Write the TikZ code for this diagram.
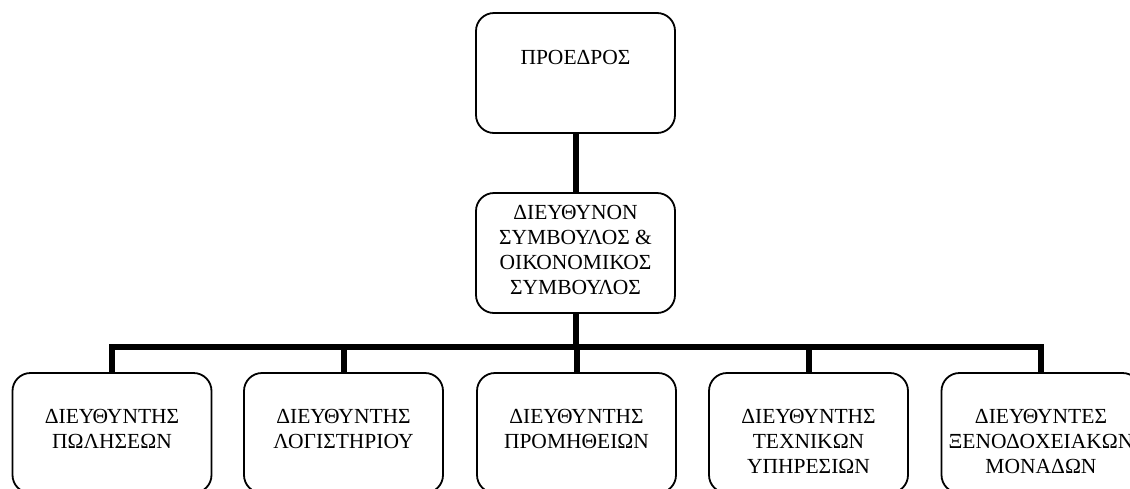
\documentclass[tikz,border=0pt]{standalone}
\usepackage{fontspec}
\setmainfont{Liberation Serif}
\begin{document}
\begin{tikzpicture}[x=1pt,y=-1pt,
  box/.style={draw, line width=1.8pt, rounded corners=18pt, minimum width=199pt, minimum height=120pt, inner sep=0pt},
  txt/.style={font=\fontsize{21.5}{25}\selectfont, align=center, inner sep=0pt, anchor=north},
  link/.style={line width=6pt}]
\useasboundingbox (0,0) rectangle (1130,488);
\clip (0,0) rectangle (1130,488);
\node[box] (top) at (575.5,73) {};
\node[box] (ceo) at (575.5,253) {};
\node[box] (d1) at (112,433) {};
\node[box] (d2) at (343.5,433) {};
\node[box] (d3) at (576.5,433) {};
\node[box] (d4) at (808.5,433) {};
\node[box] (d5) at (1041,433) {};
\node[txt] (t0) at ([yshift=-38pt]top.north) {ΠΡΟΕΔΡΟΣ};
\node[txt] (tc) at ([yshift=-13pt]ceo.north) {ΔΙΕΥΘΥΝΟΝ\\ΣΥΜΒΟΥΛΟΣ \&\\ΟΙΚΟΝΟΜΙΚΟΣ\\ΣΥΜΒΟΥΛΟΣ};
\node[txt] (t1) at ([yshift=-37pt]d1.north) {ΔΙΕΥΘΥΝΤΗΣ\\ΠΩΛΗΣΕΩΝ};
\node[txt] (t2) at ([yshift=-37pt]d2.north) {ΔΙΕΥΘΥΝΤΗΣ\\ΛΟΓΙΣΤΗΡΙΟΥ};
\node[txt] (t3) at ([yshift=-37pt]d3.north) {ΔΙΕΥΘΥΝΤΗΣ\\ΠΡΟΜΗΘΕΙΩΝ};
\node[txt] (t4) at ([yshift=-37pt]d4.north) {ΔΙΕΥΘΥΝΤΗΣ\\ΤΕΧΝΙΚΩΝ\\ΥΠΗΡΕΣΙΩΝ};
\node[txt] (t5) at ([yshift=-37pt]d5.north) {ΔΙΕΥΘΥΝΤΕΣ\\ΞΕΝΟΔΟΧΕΙΑΚΩΝ\\ΜΟΝΑΔΩΝ};
\draw[link] (top.south) -- (ceo.north);
\draw[link] (ceo.south) -- ++(0,33) coordinate (j);
\draw[link] (d1.north) -- (d1.north |- j) -- (d5.north |- j) -- (d5.north);
\draw[link] (d2.north) -- (d2.north |- j);
\draw[link] (d3.north) -- (d3.north |- j);
\draw[link] (d4.north) -- (d4.north |- j);
\end{tikzpicture}
\end{document}
